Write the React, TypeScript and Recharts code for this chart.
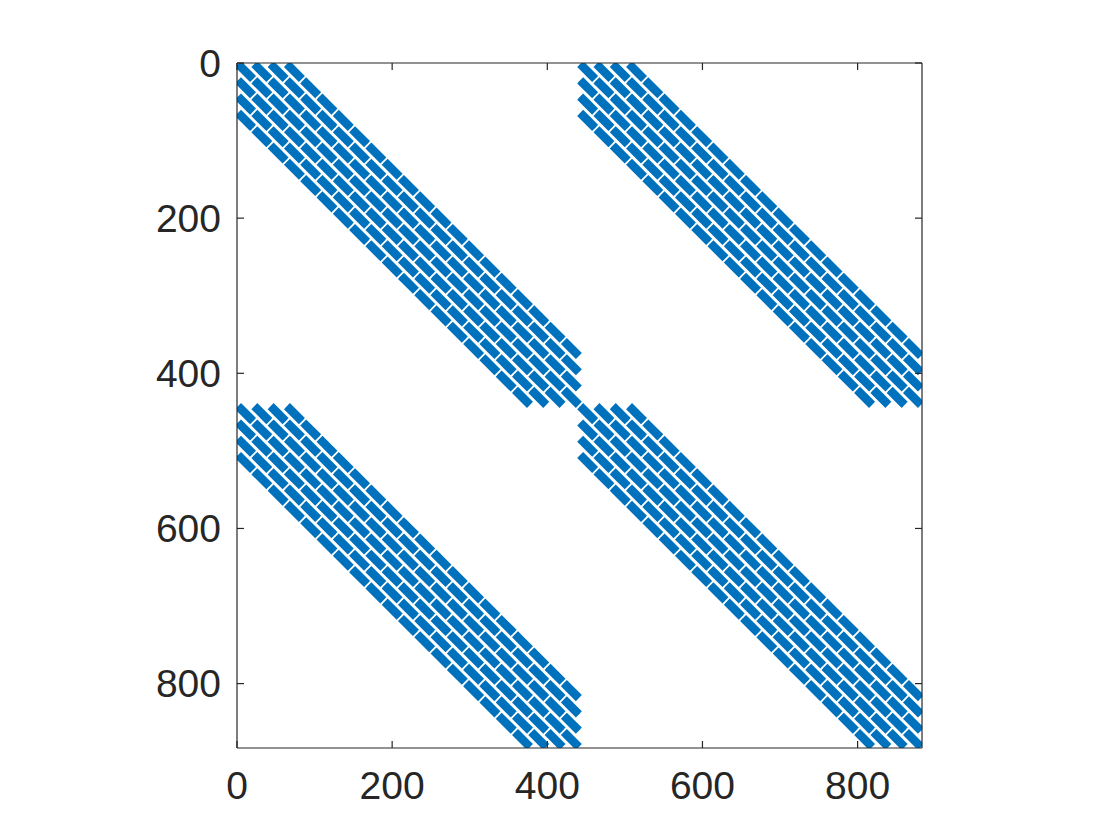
import { LineChart, Line, XAxis, YAxis } from 'recharts'

// sparsity pattern: 2x2 blocks, each block a 21x21 grid operator (441 rows)
const N = 882
const BLOCK = 441
const GRID = 21
const BLOCK_ROWS = [0, 1]
const BLOCK_COLS = [0, 1]
const BAND_STEPS = [-3, -2, -1, 0, 1, 2, 3] // band offset = step * GRID
// each band is 7 wide; its upper and lower halves thin out at opposite grid-row ends
const HALVES = [
  { shift: 1.6, q0: 0, q1: 19.3 },
  { shift: -1.6, q0: 1.7, q1: 21 },
]

const TICKS = [0, 200, 400, 600, 800]
const DOMAIN: [number, number] = [0, N + 1]

const BLUE = '#0072BD'
const INK = '#262626'
const FONT = { fill: INK, fontSize: 39, fontFamily: 'Liberation Sans, Arial, sans-serif' }

type Pt = { x: number; y: number | null }

function blockDashes(br: number, bc: number): Pt[] {
  const pts: Pt[] = []
  for (const a of BAND_STEPS) {
    const d = a * GRID
    const pStart = Math.max(0, -a)
    const pEnd = Math.min(GRID - 1, GRID - 1 - a)
    for (const h of HALVES) {
      for (let p = pStart; p <= pEnd; p++) {
        const s = p * GRID + h.q0 + 0.5
        const e = p * GRID + h.q1 + 0.5
        pts.push({ x: bc * BLOCK + s + d + h.shift, y: br * BLOCK + s })
        pts.push({ x: bc * BLOCK + e + d + h.shift, y: br * BLOCK + e })
        pts.push({ x: bc * BLOCK + e + d + h.shift, y: null })
      }
    }
  }
  return pts
}

const NoLabel = () => <g />

export default function App() {
  const blocks = BLOCK_ROWS.flatMap((br) => BLOCK_COLS.map((bc) => ({ key: `${br}-${bc}`, data: blockDashes(br, bc) })))

  return (
    <div style={{ width: 1104, height: 824, background: '#fff' }}>
      <LineChart width={1104} height={824} margin={{ top: 54, right: 189, bottom: 34, left: 149 }}>
        <XAxis
          type="number"
          dataKey="x"
          domain={DOMAIN}
          ticks={TICKS}
          allowDataOverflow
          height={50}
          tickSize={-7}
          tickMargin={30}
          axisLine={{ stroke: INK, strokeWidth: 1.2 }}
          tickLine={{ stroke: INK, strokeWidth: 1.2 }}
          tick={FONT}
        />
        <XAxis
          xAxisId="top"
          orientation="top"
          type="number"
          dataKey="x"
          domain={DOMAIN}
          ticks={TICKS}
          allowDataOverflow
          height={1}
          tickSize={-7}
          axisLine={{ stroke: INK, strokeWidth: 1.2 }}
          tickLine={{ stroke: INK, strokeWidth: 1.2 }}
          tick={NoLabel}
        />
        <YAxis
          type="number"
          dataKey="y"
          domain={DOMAIN}
          ticks={TICKS}
          reversed
          allowDataOverflow
          width={80}
          tickSize={-7}
          tickMargin={23}
          axisLine={{ stroke: INK, strokeWidth: 1.2 }}
          tickLine={{ stroke: INK, strokeWidth: 1.2 }}
          tick={FONT}
        />
        <YAxis
          yAxisId="right"
          orientation="right"
          type="number"
          dataKey="y"
          domain={DOMAIN}
          ticks={TICKS}
          reversed
          allowDataOverflow
          width={1}
          tickSize={-7}
          axisLine={{ stroke: INK, strokeWidth: 1.2 }}
          tickLine={{ stroke: INK, strokeWidth: 1.2 }}
          tick={NoLabel}
        />
        {blocks.map((b) => (
          <Line
            key={b.key}
            data={b.data}
            dataKey="y"
            stroke={BLUE}
            strokeWidth={6.8}
            dot={false}
            activeDot={false}
            connectNulls={false}
            isAnimationActive={false}
          />
        ))}
      </LineChart>
    </div>
  )
}
